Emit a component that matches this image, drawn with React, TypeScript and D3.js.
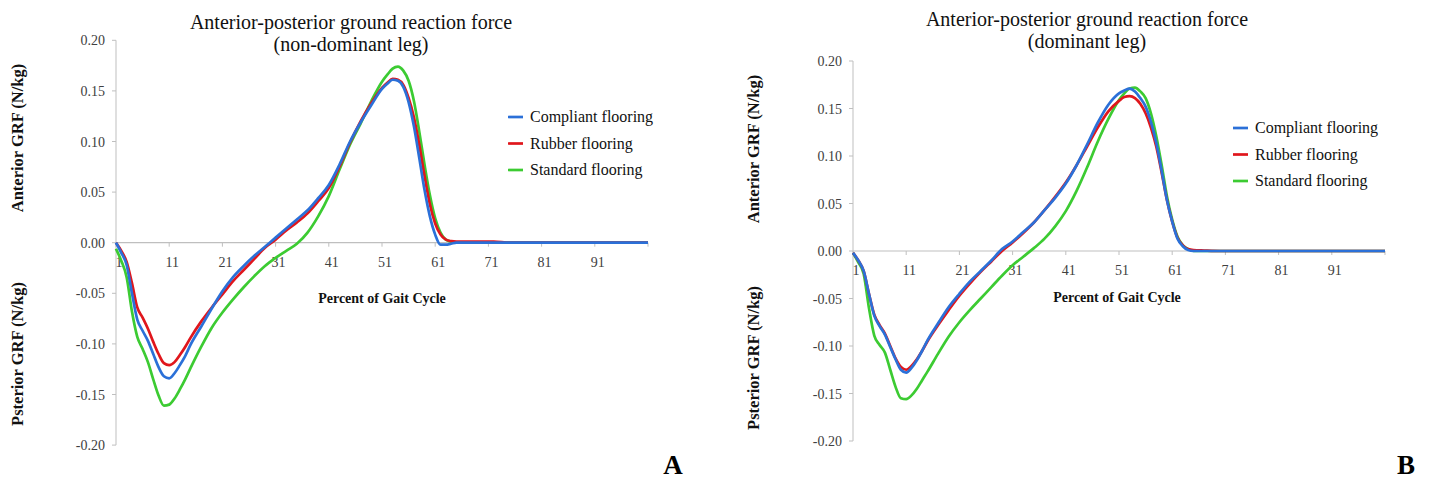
import React from "react";
import * as d3 from "d3";

const pct = [1,2,3,4,5,6,7,8,9,10,11,12,13,14,15,17,19,21,23,25,27,29,31,33,35,37,39,41,43,45,47,49,51,52,53,54,55,56,57,58,59,60,61,62,63,64,65,67,70,72,75,80,90,101];

// Non-dominant leg (A)
const ndCompliant = [0,-0.010,-0.022,-0.050,-0.076,-0.087,-0.097,-0.110,-0.123,-0.132,-0.134,-0.129,-0.121,-0.112,-0.101,-0.083,-0.065,-0.048,-0.034,-0.023,-0.013,-0.004,0.005,0.014,0.023,0.032,0.044,0.057,0.077,0.100,0.119,0.136,0.152,0.157,0.161,0.160,0.154,0.139,0.115,0.084,0.052,0.026,0.008,-0.002,-0.002,-0.001,0,0,0,0,0,0,0,0];
const ndRubber = [0,-0.008,-0.019,-0.040,-0.064,-0.074,-0.085,-0.098,-0.110,-0.119,-0.121,-0.118,-0.111,-0.103,-0.094,-0.078,-0.064,-0.051,-0.038,-0.027,-0.016,-0.005,0.003,0.012,0.020,0.029,0.041,0.054,0.075,0.099,0.120,0.138,0.153,0.158,0.162,0.161,0.156,0.143,0.124,0.097,0.066,0.038,0.019,0.008,0.003,0.0015,0.001,0.001,0.001,0.001,0,0,0,0];
const ndStandard = [-0.006,-0.018,-0.034,-0.068,-0.093,-0.105,-0.118,-0.135,-0.151,-0.161,-0.160,-0.154,-0.145,-0.135,-0.124,-0.103,-0.084,-0.069,-0.056,-0.044,-0.033,-0.023,-0.015,-0.008,-0.001,0.010,0.026,0.046,0.072,0.097,0.118,0.140,0.159,0.166,0.172,0.174,0.170,0.160,0.140,0.110,0.077,0.047,0.024,0.010,0.003,0.001,0,0,0,0,0,0,0,0];

// Dominant leg (B)
const dCompliant = [-0.002,-0.010,-0.021,-0.045,-0.068,-0.079,-0.088,-0.101,-0.114,-0.125,-0.128,-0.123,-0.115,-0.105,-0.094,-0.076,-0.059,-0.045,-0.032,-0.021,-0.010,0.002,0.010,0.020,0.030,0.043,0.056,0.071,0.090,0.112,0.135,0.154,0.166,0.169,0.171,0.168,0.161,0.152,0.136,0.114,0.085,0.054,0.031,0.013,0.005,0.001,0,0,0,0,0,0,0,0];
const dRubber = [-0.002,-0.010,-0.021,-0.045,-0.067,-0.078,-0.087,-0.100,-0.113,-0.122,-0.125,-0.121,-0.114,-0.105,-0.095,-0.078,-0.062,-0.047,-0.034,-0.022,-0.011,0.000,0.009,0.019,0.030,0.043,0.057,0.072,0.090,0.110,0.130,0.147,0.158,0.162,0.163,0.161,0.155,0.145,0.130,0.110,0.083,0.054,0.031,0.014,0.006,0.002,0.001,0.0005,0,0,0,0,0,0];
const dStandard = [-0.002,-0.012,-0.024,-0.060,-0.089,-0.099,-0.107,-0.125,-0.143,-0.155,-0.156,-0.152,-0.145,-0.136,-0.127,-0.108,-0.090,-0.075,-0.062,-0.050,-0.038,-0.026,-0.015,-0.006,0.003,0.013,0.026,0.042,0.063,0.088,0.115,0.139,0.159,0.166,0.171,0.172,0.168,0.161,0.145,0.121,0.091,0.058,0.033,0.015,0.006,0.002,0,0,0,0,0,0,0,0];

const seriesNames = ["Compliant flooring", "Rubber flooring", "Standard flooring"];
const seriesColors = ["#2B70D8", "#E0161C", "#3CCB32"];
const yTicks = [0.2, 0.15, 0.1, 0.05, 0, -0.05, -0.1, -0.15, -0.2];
const xTicks = [1, 11, 21, 31, 41, 51, 61, 71, 81, 91];
const titleLine1 = "Anterior-posterior ground reaction force";

type PanelCfg = {
  x0: number; x1: number; yTop: number; yBot: number;
  data: number[][]; sub: string; titleX: number; titleY: number;
  legX: number; legY: number; legGap: number; labX: number;
  antY: number; postY: number; xlabX: number; xlabY: number;
  letter: string; letterX: number; letterY: number;
};

const FONT = "'Liberation Serif', 'Times New Roman', serif";

function Panel({ c }: { c: PanelCfg }) {
  const x = d3.scaleLinear().domain([1, 101]).range([c.x0, c.x1]);
  const y = d3.scaleLinear().domain([-0.2, 0.2]).range([c.yBot, c.yTop]);
  const line = d3.line<[number, number]>()
    .x(d => x(d[0])).y(d => y(d[1])).curve(d3.curveMonotoneX);
  const y0 = y(0);
  const axisColor = "#bfbfbf";
  const tickColor = "#404040";
  return (
    <g>
      <text x={c.titleX} y={c.titleY} textAnchor="middle" fontFamily={FONT} fontSize={20} fill="#111">{titleLine1}</text>
      <text x={c.titleX} y={c.titleY + 22} textAnchor="middle" fontFamily={FONT} fontSize={20} fill="#111">{c.sub}</text>
      {/* y axis */}
      <line x1={c.x0} x2={c.x0} y1={c.yTop} y2={c.yBot} stroke={axisColor} strokeWidth={1} />
      {yTicks.map(t => (
        <g key={t}>
          <line x1={c.x0 - 4} x2={c.x0} y1={y(t)} y2={y(t)} stroke={axisColor} />
          <text x={c.x0 - 11} y={y(t) + 5} textAnchor="end" fontFamily={FONT} fontSize={14} fill={tickColor}>{t.toFixed(2)}</text>
        </g>
      ))}
      {/* x axis at zero */}
      <line x1={c.x0} x2={c.x1} y1={y0} y2={y0} stroke={axisColor} strokeWidth={1.2} />
      {[...xTicks, 101].map(t => (
        <line key={t} x1={x(t)} x2={x(t)} y1={y0} y2={y0 + 4} stroke={axisColor} />
      ))}
      {xTicks.map(t => (
        <text key={t} x={x(t) + 3} y={y0 + 24} textAnchor="middle" fontFamily={FONT} fontSize={14} fill={tickColor}>{t}</text>
      ))}
      {/* series */}
      {[2, 1, 0].map(i => (
        <path key={i} d={line(pct.map((p, k) => [p, c.data[i][k]] as [number, number])) || ""}
          fill="none" stroke={seriesColors[i]} strokeWidth={2.7} strokeLinejoin="round" />
      ))}
      {/* legend */}
      {seriesNames.map((n, i) => (
        <g key={n}>
          <line x1={c.legX} x2={c.legX + 15} y1={c.legY + i * c.legGap} y2={c.legY + i * c.legGap} stroke={seriesColors[i]} strokeWidth={2.7} />
          <text x={c.legX + 22} y={c.legY + i * c.legGap + 5} fontFamily={FONT} fontSize={16} fill="#111">{n}</text>
        </g>
      ))}
      {/* axis titles */}
      <text transform={`translate(${c.labX},${c.antY}) rotate(-90)`} textAnchor="middle" fontFamily={FONT} fontWeight="bold" fontSize={16.5} fill="#111">Anterior GRF (N/kg)</text>
      <text transform={`translate(${c.labX},${c.postY}) rotate(-90)`} textAnchor="middle" fontFamily={FONT} fontWeight="bold" fontSize={16.5} fill="#111">Psterior GRF (N/kg)</text>
      <text x={c.xlabX} y={c.xlabY} textAnchor="middle" fontFamily={FONT} fontWeight="bold" fontSize={14} fill="#111">Percent of Gait Cycle</text>
      <text x={c.letterX} y={c.letterY} textAnchor="middle" fontFamily={FONT} fontWeight="bold" fontSize={27} fill="#000">{c.letter}</text>
    </g>
  );
}

export default function App() {
  const left: PanelCfg = {
    x0: 116, x1: 648, yTop: 40.3, yBot: 445.1,
    data: [ndCompliant, ndRubber, ndStandard], sub: "(non-dominant leg)",
    titleX: 351, titleY: 29, legX: 508, legY: 117, legGap: 26.5, labX: 23,
    antY: 138, postY: 354, xlabX: 382, xlabY: 303, letter: "A", letterX: 673, letterY: 474,
  };
  const right: PanelCfg = {
    x0: 853, x1: 1385, yTop: 61, yBot: 441,
    data: [dCompliant, dRubber, dStandard], sub: "(dominant leg)",
    titleX: 1087, titleY: 26, legX: 1233, legY: 128, legGap: 26.5, labX: 759,
    antY: 149, postY: 358, xlabX: 1117, xlabY: 302, letter: "B", letterX: 1406, letterY: 474,
  };
  return (
    <svg width={1434} height={481} style={{ position: "absolute", left: 0, top: 0, background: "#fff" }}>
      <rect width={1434} height={481} fill="#fff" />
      <Panel c={left} />
      <Panel c={right} />
    </svg>
  );
}
